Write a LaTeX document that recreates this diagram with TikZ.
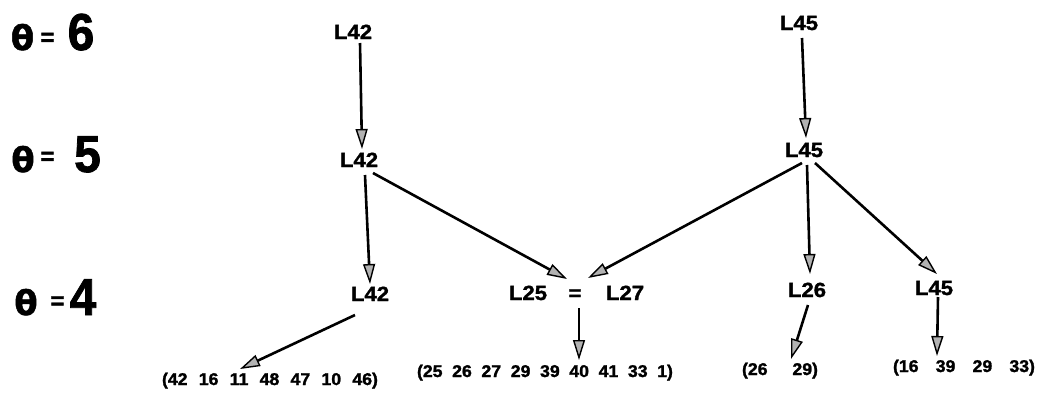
\documentclass[tikz,border=0pt]{standalone}
\usepackage{fontspec}
\setmainfont{Liberation Sans}
\newfontfamily\lblfont[FakeStretch=1.08,FakeBold=1.5]{Liberation Sans Bold}
\newfontfamily\setfont[FakeStretch=1.04,FakeBold=1.5]{Liberation Sans Bold}
\newfontfamily\greekfont[FakeBold=1.5]{DejaVu Sans Bold}
\newfontfamily\eqfont[FakeBold=1.5]{Liberation Sans Bold}
\newfontfamily\bignumfont[FakeStretch=0.92,FakeBold=1.5]{Liberation Sans Bold}
\usetikzlibrary{arrows.meta,calc}

\begin{document}
\begin{tikzpicture}[x=1pt,y=-1pt,
  lvl/.style={inner sep=0pt, anchor=base,
    font=\lblfont\fontsize{20.5}{24}\selectfont},
  setlist/.style={inner sep=0pt, anchor=base,
    font=\setfont\fontsize{17}{20}\selectfont},
  thsym/.style={inner sep=0pt, anchor=base,
    font=\greekfont\fontsize{34}{38}\selectfont},
  theq/.style={inner sep=0pt, anchor=center,
    font=\eqfont\fontsize{24}{26}\selectfont},
  thval/.style={inner sep=0pt, anchor=base,
    font=\bignumfont\fontsize{52}{56}\selectfont},
  flow/.style={line width=2.6pt,
    -{Triangle[length=20pt,width=12pt,fill=gray!60,line width=1.4pt]}}]

\fill[white] (0,0) rectangle (1037,392);
\useasboundingbox (0,0) rectangle (1037,392);

% level labels on the left
\node[thsym] (th6) at (22.5,50) {θ};
\node[theq]  (eq6) at (47.5,39) {=};
\node[thval] (v6)  at (81,50) {6};

\node[thsym] (th5) at (23,172) {θ};
\node[theq]  (eq5) at (47.5,158) {=};
\node[thval] (v5)  at (87.5,172) {5};

\node[thsym] (th4) at (26,315) {θ};
\node[theq]  (eq4) at (57.5,302.5) {=};
\node[thval] (v4)  at (83,315) {4};

% tree nodes
\node[lvl] (t42) at (353,39)  {L42};
\node[lvl] (m42) at (359,167) {L42};
\node[lvl] (b42) at (370,301) {L42};

\node[lvl] (l25) at (528,300) {L25};
\node[lvl] (meq) at (575,300) {=};
\node[lvl] (l27) at (625,300) {L27};

\node[lvl] (t45) at (799,30)  {L45};
\node[lvl] (m45) at (804,157) {L45};
\node[lvl] (l26) at (807,297) {L26};
\node[lvl] (r45) at (934,295) {L45};

% leaf sets
\node[setlist] (s1) at (270,385) {\makebox[216pt][s]{(42 16 11 48 47 10 46)}};
\node[setlist] (s2) at (545,377) {\makebox[256pt][s]{(25 26 27 29 39 40 41 33 1)}};
\node[setlist] (s3) at (780,375) {\makebox[76pt][s]{(26 29)}};
\node[setlist] (s4) at (964,372) {\makebox[142pt][s]{(16 39 29 33)}};

% connectors
\draw[flow] ($(t42.base)+(7,4)$)   -- ($(m42.base)+(3,-18)$);
\draw[flow] ($(m42.base)+(6,8)$)   -- ($(b42.base)+(0,-17)$);
\draw[flow] ($(m42.base)+(14,6)$)  -- ($(meq.base)+(-8,-21)$);
\draw[flow] ($(t45.base)+(3,8)$)   -- ($(m45.base)+(2,-19)$);
\draw[flow] ($(m45.base)+(-2,6)$)  -- ($(meq.base)+(13,-22)$);
\draw[flow] ($(m45.base)+(3,8)$)   -- ($(l26.base)+(3,-23)$);
\draw[flow] ($(m45.base)+(11,6)$)  -- ($(r45.base)+(3,-21)$);
\draw[flow] ($(b42.base)+(-15,14)$) -- ($(s1.base)+(-30,-16)$);
\draw[flow] ($(meq.base)+(4,8)$)   -- ($(s2.base)+(34,-17)$);
\draw[flow] ($(l26.base)+(1,8)$)   -- ($(s3.base)+(11,-16)$);
\draw[flow] ($(r45.base)+(4,2)$)   -- ($(s4.base)+(-27,-16)$);
\end{tikzpicture}
\end{document}
